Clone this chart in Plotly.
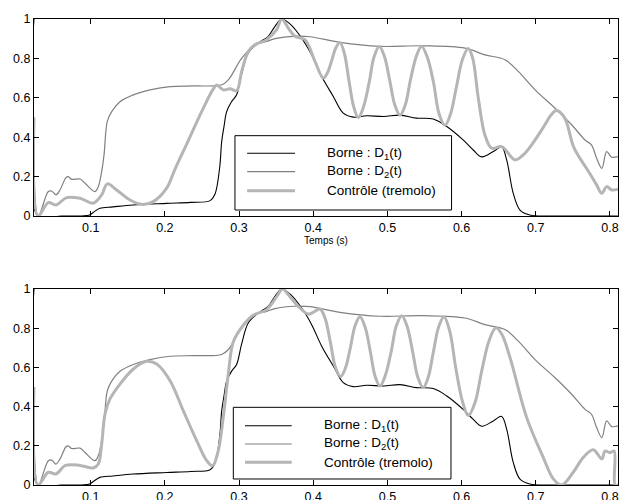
import plotly.graph_objects as go

# ---------------- data ----------------
d1_t = [0.0236, 0.029, 0.06, 0.088, 0.0985, 0.105, 0.1125, 0.13, 0.157, 0.2024, 0.235,
        0.261, 0.2675, 0.274, 0.2766, 0.2797, 0.2833, 0.29, 0.2967, 0.3035, 0.3124, 0.3259,
        0.3394, 0.3484, 0.3575, 0.3686, 0.3844, 0.3979, 0.4114, 0.427, 0.4405, 0.454, 0.472,
        0.495, 0.517, 0.539, 0.5618, 0.58, 0.602, 0.6157, 0.627, 0.6427, 0.654, 0.6607,
        0.6696, 0.6787, 0.692, 0.72, 0.76, 0.812]
d1_v = [1.0, 0.0, 0.0, 0.0, 0.005, 0.022, 0.039, 0.046, 0.056, 0.064, 0.069,
        0.078, 0.11, 0.25, 0.378, 0.454, 0.53, 0.581, 0.615, 0.72, 0.827, 0.878,
        0.912, 0.963, 1.0, 0.975, 0.903, 0.818, 0.708, 0.607, 0.522, 0.502, 0.509,
        0.505, 0.512, 0.497, 0.492, 0.454, 0.386, 0.335, 0.30, 0.327, 0.35, 0.285,
        0.115, 0.03, 0.005, 0.0, 0.0, 0.0]

d2_t = [0.0236, 0.0294, 0.0429, 0.0474, 0.0532, 0.0586, 0.0667, 0.0698, 0.0744, 0.0856,
        0.0923, 0.1058, 0.1103, 0.1148, 0.118, 0.1224, 0.1283, 0.1395, 0.1575, 0.18, 0.207,
        0.24, 0.2766, 0.2855, 0.3035, 0.3214, 0.337, 0.3484, 0.3753, 0.3956, 0.436, 0.49,
        0.548, 0.6045, 0.6315, 0.6585, 0.6764, 0.699, 0.726, 0.7483, 0.7663, 0.775, 0.782,
        0.789, 0.7955, 0.8023, 0.809, 0.812]
d2_v = [0.5, 0.0, 0.124, 0.127, 0.107, 0.132, 0.195, 0.20, 0.186, 0.188,
        0.166, 0.124, 0.149, 0.225, 0.31, 0.48, 0.53, 0.58, 0.615, 0.64, 0.657,
        0.66, 0.666, 0.691, 0.80, 0.869, 0.886, 0.90, 0.912, 0.91, 0.881, 0.861,
        0.864, 0.852, 0.818, 0.793, 0.734, 0.64, 0.547, 0.463, 0.386, 0.361, 0.293,
        0.242, 0.327, 0.298, 0.30, 0.30]

ctrl1_t = [0.0236, 0.029, 0.0429, 0.0532, 0.0676, 0.0856, 0.1035, 0.1148, 0.1224, 0.135,
           0.153, 0.1687, 0.1844, 0.2024, 0.2137, 0.2316, 0.2496, 0.2653, 0.27, 0.2787,
           0.2878, 0.2967, 0.3035, 0.3124, 0.3214, 0.337, 0.3507, 0.3575, 0.3663, 0.3753,
           0.3888, 0.4023, 0.4135, 0.419, 0.425, 0.4305, 0.436, 0.442, 0.448, 0.4545,
           0.4607, 0.4677, 0.4755, 0.482, 0.489, 0.496, 0.503, 0.510, 0.517,
           0.524, 0.531, 0.539, 0.546, 0.554, 0.562, 0.5696, 0.5775, 0.585, 0.593, 0.601,
           0.609, 0.615, 0.6225, 0.6315, 0.6405, 0.654, 0.672, 0.683,
           0.6944, 0.7123, 0.72, 0.728, 0.739, 0.7517, 0.7713, 0.782, 0.789, 0.7955, 0.8023, 0.812]
ctrl1_v = [0.5, 0.0, 0.068, 0.056, 0.093, 0.09, 0.065, 0.107, 0.163, 0.132,
           0.081, 0.059, 0.073, 0.141, 0.238, 0.383, 0.53, 0.645, 0.665, 0.64,
           0.646, 0.636, 0.734, 0.835, 0.869, 0.895, 0.946, 1.0, 0.954, 0.912,
           0.895, 0.785, 0.70, 0.726, 0.79, 0.854, 0.88, 0.825, 0.69, 0.555,
           0.50, 0.553, 0.68, 0.808, 0.861, 0.81, 0.69, 0.563, 0.512,
           0.563, 0.69, 0.811, 0.862, 0.803, 0.68, 0.519, 0.46, 0.517, 0.655, 0.793,
           0.85, 0.80, 0.598, 0.41, 0.344, 0.352, 0.285, 0.31,
           0.361, 0.463, 0.51, 0.535, 0.497, 0.344, 0.225, 0.158, 0.115, 0.149, 0.132, 0.137]

ctrl2_t = [0.0236, 0.029, 0.0429, 0.0532, 0.066, 0.0856, 0.1035, 0.1103, 0.1148, 0.1193,
           0.126, 0.1395, 0.1575, 0.1755, 0.189, 0.207, 0.2248, 0.2429, 0.2564, 0.2644,
           0.272, 0.2787, 0.2855, 0.2922, 0.3057, 0.319, 0.337, 0.3507, 0.3585, 0.3686,
           0.3793, 0.3933, 0.40, 0.409, 0.416, 0.423, 0.430, 0.437, 0.4435, 0.45, 0.4565,
           0.463, 0.4698, 0.477, 0.4832, 0.49, 0.497, 0.505, 0.512,
           0.5193, 0.5265, 0.534, 0.541, 0.5483, 0.555, 0.562, 0.569,
           0.5762, 0.584, 0.592, 0.601, 0.609, 0.618, 0.627, 0.637, 0.6462, 0.654, 0.6652,
           0.6876, 0.71, 0.7236, 0.7348, 0.7505, 0.764, 0.7775, 0.789, 0.7933, 0.80,
           0.8056, 0.807, 0.812]
ctrl2_v = [0.5, 0.0, 0.065, 0.056, 0.10, 0.10, 0.087, 0.107, 0.209, 0.362,
           0.439, 0.515, 0.592, 0.631, 0.617, 0.532, 0.379, 0.226, 0.124, 0.098,
           0.175, 0.345, 0.566, 0.73, 0.815, 0.866, 0.895, 0.961, 1.0, 0.961,
           0.913, 0.872, 0.881, 0.898, 0.85, 0.73, 0.60, 0.553, 0.598, 0.70, 0.814,
           0.859, 0.807, 0.68, 0.557, 0.505, 0.557, 0.68, 0.812,
           0.864, 0.81, 0.68, 0.55, 0.497, 0.55, 0.68, 0.806,
           0.859, 0.785, 0.60, 0.428, 0.354, 0.42, 0.58, 0.736, 0.802, 0.77, 0.651,
           0.345, 0.141, 0.031, 0.0, 0.065, 0.141, 0.18, 0.133, 0.173, 0.165,
           0.173, 0.0, 0.0]

legend_labels = ["Borne : D<sub>1</sub>(t)", "Borne : D<sub>2</sub>(t)", "Contrôle (tremolo)"]
x_label = "Temps (s)"
x_ticks = [0.1, 0.2, 0.3, 0.4, 0.5, 0.6, 0.7, 0.8]
y_ticks = [0, 0.2, 0.4, 0.6, 0.8, 1]

# ---------------- styles ----------------
C_D1 = "#000000"
C_D2 = "#808080"
C_CTRL = "#b5b5b5"
W_D1, W_D2, W_CTRL = 1.1, 1.2, 3
FONT = "Liberation Sans, Arial, Helvetica, sans-serif"
SMOOTH = 1.0

fig = go.Figure()

for ax, ctrl_t, ctrl_v in [("", ctrl1_t, ctrl1_v), ("2", ctrl2_t, ctrl2_v)]:
    xa, ya = "x" + ax, "y" + ax
    fig.add_trace(go.Scatter(x=d1_t, y=d1_v, mode="lines", xaxis=xa, yaxis=ya,
                             line=dict(color=C_D1, width=W_D1, shape="spline", smoothing=SMOOTH),
                             showlegend=False))
    fig.add_trace(go.Scatter(x=d2_t, y=d2_v, mode="lines", xaxis=xa, yaxis=ya,
                             line=dict(color=C_D2, width=W_D2, shape="spline", smoothing=SMOOTH),
                             showlegend=False))
    fig.add_trace(go.Scatter(x=ctrl_t, y=ctrl_v, mode="lines", xaxis=xa, yaxis=ya,
                             line=dict(color=C_CTRL, width=W_CTRL, shape="spline", smoothing=SMOOTH),
                             showlegend=False))

axis_common = dict(showline=True, linecolor="black", linewidth=1, mirror="ticks",
                   ticks="inside", ticklen=5, tickcolor="black", tickwidth=1,
                   showgrid=False, zeroline=False, automargin=False,
                   tickfont=dict(family=FONT, size=12.5, color="black"))

XR = [0.0236, 0.8108]
fig.update_layout(
    width=619, height=500,
    margin=dict(l=34, r=1, t=19, b=15),
    paper_bgcolor="white", plot_bgcolor="white",
    font=dict(family=FONT, color="black"),
    showlegend=False,
    xaxis=dict(range=XR, tickvals=x_ticks, anchor="y", domain=[0, 1],
               title=dict(text=x_label, font=dict(size=10, family=FONT), standoff=2),
               **axis_common),
    yaxis=dict(range=[0, 1], tickvals=y_ticks, anchor="x", domain=[0.5773, 1.0], **axis_common),
    xaxis2=dict(range=XR, tickvals=x_ticks, anchor="y2", domain=[0, 1], **axis_common),
    yaxis2=dict(range=[0, 1], tickvals=y_ticks, anchor="x2", domain=[0.0, 0.4206], **axis_common),
)

# ---------------- legends (drawn boxes) ----------------
def add_legend(box, sample_x, text_x, rows):
    fig.add_shape(type="rect", xref="paper", yref="paper",
                  x0=box[0], x1=box[1], y0=box[2], y1=box[3],
                  line=dict(color="black", width=1), fillcolor="white", layer="above")
    styles = [(C_D1, W_D1), (C_D2, W_D2), (C_CTRL, W_CTRL)]
    for (col, w), yy, lab in zip(styles, rows, legend_labels):
        fig.add_shape(type="line", xref="paper", yref="paper",
                      x0=sample_x[0], x1=sample_x[1], y0=yy, y1=yy,
                      line=dict(color=col, width=w), layer="above")
        fig.add_annotation(xref="paper", yref="paper", x=text_x, y=yy, text=lab,
                           showarrow=False, xanchor="left", yanchor="middle",
                           font=dict(family=FONT, size=13.5, color="black"))

add_legend((0.3441, 0.7150, 0.5901, 0.7496), (0.365, 0.447), 0.4983,
           (0.7118, 0.6723, 0.6315))
add_legend((0.3413, 0.7140, 0.0129, 0.1667), (0.3613, 0.4413), 0.4926,
           (0.1273, 0.0880, 0.0487))

fig.write_html("out.html", config={"displayModeBar": False},
               post_script="document.body.style.margin='0';document.body.style.overflow='hidden';")
